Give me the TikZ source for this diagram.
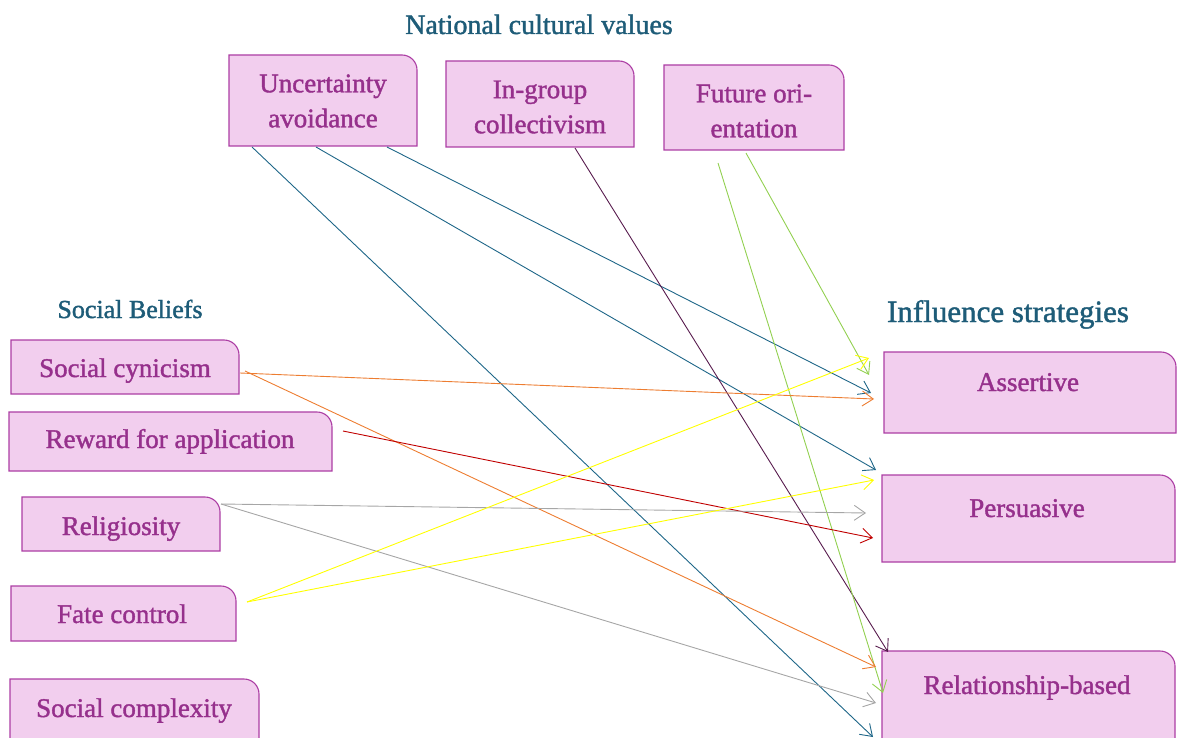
\documentclass[tikz,border=0pt]{standalone}
\usepackage{fontspec}
\setmainfont{Liberation Serif}[BoldFont={Liberation Serif},BoldFeatures={FakeBold=1.4}]
\usetikzlibrary{arrows.meta}
\definecolor{boxfill}{RGB}{242,206,238}
\definecolor{boxedge}{RGB}{172,62,164}
\definecolor{boxtxt}{RGB}{150,48,140}
\definecolor{titletxt}{RGB}{30,92,120}
\definecolor{cteal}{RGB}{30,102,136}
\definecolor{cpurple}{RGB}{88,28,78}
\definecolor{cgreen}{RGB}{146,208,80}
\definecolor{corange}{RGB}{237,125,49}
\definecolor{cred}{RGB}{192,0,0}
\definecolor{cgray}{RGB}{166,166,166}
\definecolor{cyellow}{RGB}{255,255,0}
% two-line box: text centred at (#6,#7)
\newcommand{\rbox}[8]{%
  \filldraw[boxline] (#2,#5) -- (#2,#3) -- ({#4-15},#3) arc[start angle=90,end angle=0,radius=15pt] -- (#4,#5) -- cycle;
  \node[boxtext] (#1) at (#6,#7) {#8};}
% one-line box: text baseline at (#6,#7)
\newcommand{\lbox}[8]{%
  \filldraw[boxline] (#2,#5) -- (#2,#3) -- ({#4-15},#3) arc[start angle=90,end angle=0,radius=15pt] -- (#4,#5) -- cycle;
  \node[boxtext,anchor=base] (#1) at (#6,#7) {#8};}
\begin{document}
\begin{tikzpicture}[x=1pt,y=-1pt,
  boxline/.style={fill=boxfill,draw=boxedge,line width=1.1pt},
  boxtext/.style={text=boxtxt,align=center,inner sep=0pt,font=\fontsize{27}{35}\selectfont\bfseries},
  titlestyle/.style={text=titletxt,inner sep=0pt,anchor=base},
  arr/.style={-{Straight Barb[length=11pt,width=15pt]},line width=0.9pt}]
\useasboundingbox (0,0) rectangle (1177,738);

% titles
\node[titlestyle,font=\fontsize{28}{32}\selectfont\bfseries] (tnat) at (539,34) {National cultural values};
\node[titlestyle,font=\fontsize{26}{30}\selectfont\bfseries] (tsoc) at (130,318) {Social Beliefs};
\node[titlestyle,font=\fontsize{31}{36}\selectfont\bfseries] (tinf) at (1008,322) {Influence strategies};

% top boxes
\rbox{ua}{229}{55}{417}{146}{323}{101}{Uncertainty\\avoidance}
\rbox{ig}{446}{61}{634}{147}{540}{107}{In-group\\collectivism}
\rbox{fo}{664}{65}{844}{150}{754}{111}{Future ori-\\entation}

% left boxes
\lbox{sc}{11}{340}{239}{394}{125}{377}{Social cynicism}
\lbox{ra}{9}{412}{332}{471}{170}{448}{Reward for application}
\lbox{rel}{22}{497}{220}{551}{121}{535}{Religiosity}
\lbox{fc}{11}{586}{236}{641}{122}{623}{Fate control}
\lbox{scx}{10}{679}{259}{790}{134}{717}{Social complexity}

% right boxes
\lbox{as}{884}{352}{1176}{433}{1028}{391}{Assertive}
\lbox{pe}{882}{475}{1175}{562}{1027}{517}{Persuasive}
\lbox{rb}{882}{651}{1175}{790}{1027}{694}{Relationship-based}

% connector end points
\coordinate (ua1) at (252,147); \coordinate (ua2) at (316,147); \coordinate (ua3) at (387,147);
\coordinate (ig1) at (575,148);
\coordinate (fo1) at (718,163); \coordinate (fo2) at (746,153);
\coordinate (sc1) at (240,373); \coordinate (sc2) at (245,371);
\coordinate (ra1) at (343,431);
\coordinate (rel1) at (221,504);
\coordinate (fc1) at (247,602);
\coordinate (asA) at (869,358); \coordinate (asB) at (869,375); \coordinate (asC) at (871,393); \coordinate (asD) at (874,399);
\coordinate (peA) at (876,470); \coordinate (peB) at (874,480); \coordinate (peC) at (866,513); \coordinate (peD) at (873,538);
\coordinate (rbA) at (888,652); \coordinate (rbB) at (876,667); \coordinate (rbC) at (883,693); \coordinate (rbD) at (876,703); \coordinate (rbE) at (873,737);

% connectors
\draw[arr,cteal] (ua1) -- (rbE);
\draw[arr,cteal] (ua2) -- (peA);
\draw[arr,cteal] (ua3) -- (asC);
\draw[arr,cpurple] (ig1) -- (rbA);
\draw[arr,cgreen] (fo1) -- (rbC);
\draw[arr,cgreen] (fo2) -- (asB);
\draw[arr,corange] (sc1) -- (asD);
\draw[arr,corange] (sc2) -- (rbB);
\draw[arr,cred] (ra1) -- (peD);
\draw[arr,cgray] (rel1) -- (peC);
\draw[arr,cgray] (rel1) -- (rbD);
\draw[arr,cyellow] (fc1) -- (asA);
\draw[arr,cyellow] (fc1) -- (peB);
\end{tikzpicture}
\end{document}
